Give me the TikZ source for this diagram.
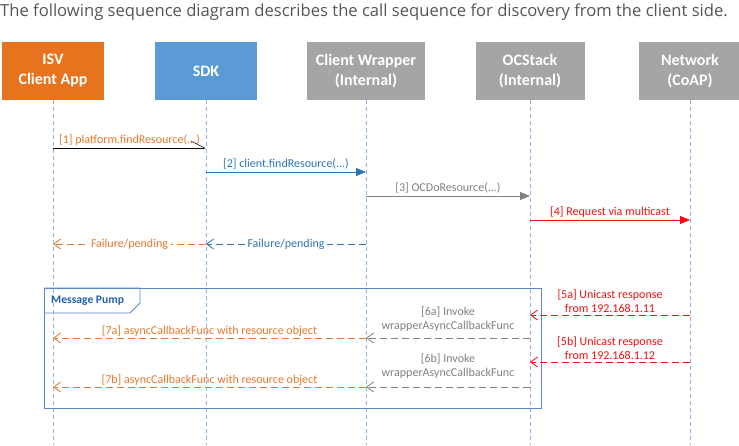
\documentclass[tikz,border=0pt]{standalone}
\usepackage{fontspec}
\setmainfont{Carlito}
\newfontfamily\titlefont{Open Sans}
\usetikzlibrary{arrows.meta}

\definecolor{isvorange}{HTML}{E8731E}
\definecolor{sdkblue}{HTML}{5B9BD5}
\definecolor{intgray}{HTML}{A5A5A5}
\definecolor{txtorange}{HTML}{E5782A}
\definecolor{txtblue}{HTML}{2E75B6}
\definecolor{txtgray}{HTML}{808080}
\definecolor{txtred}{HTML}{F01010}
\definecolor{lifeblue}{HTML}{8FB4DD}
\definecolor{pumpblue}{HTML}{5B86C8}
\definecolor{pumptext}{HTML}{1F5FAD}
\definecolor{titlegray}{HTML}{555555}

\tikzset{
  actor/.style={minimum height=58pt, text=white, inner sep=0pt, align=center,
    font=\fontsize{16}{20}\selectfont\bfseries},
  lifeline/.style={draw=lifeblue, dash pattern=on 4pt off 3pt, line width=0.6pt},
  msg/.style={font=\fontsize{12}{14.5}\selectfont, align=center, inner sep=0pt},
  call/.style={-{Triangle[length=10pt,width=8pt]}, line width=0.8pt},
  reply/.style={-{Straight Barb[length=7pt,width=10pt]}, dash pattern=on 7pt off 4pt, line width=0.8pt},
}

\begin{document}
\begin{tikzpicture}[x=1pt, y=-1pt]
  \useasboundingbox (0,0) rectangle (739,445);

  \node[anchor=west, inner sep=0pt, text=titlegray, font=\titlefont\fontsize{16.6}{19}\selectfont] (title) at (0,12)
    {The following sequence diagram describes the call sequence for discovery from the client side.};

  % participants
  \node[actor, fill=isvorange, minimum width=102pt] (isv) at (53,71) {ISV\\Client App};
  \node[actor, fill=sdkblue, minimum width=102pt] (sdk) at (206,71) {SDK};
  \node[actor, fill=intgray, minimum width=118pt] (wrap) at (366,71) {Client Wrapper\\(Internal)};
  \node[actor, fill=intgray, minimum width=109pt] (ocs) at (530,71) {OCStack\\(Internal)};
  \node[actor, fill=intgray, minimum width=102pt] (net) at (690,71) {Network\\(CoAP)};

  % lifelines
  \foreach \p in {isv,sdk,wrap,ocs,net} {
    \coordinate (\p-end) at (\p |- 0,445);
    \draw[lifeline] (\p.south) -- (\p-end);
  }

  % message pump frame
  \coordinate (pumpNW) at (44,288);
  \coordinate (pumpSE) at (541,408);
  \draw[pumpblue, line width=0.8pt] (pumpNW) rectangle (pumpSE);
  \draw[pumpblue, line width=0.8pt] (pumpNW) -- (140,288) -- (140,303) -- (130,313) -- (44,313);
  \node[anchor=west, inner sep=0pt, text=pumptext, font=\fontsize{11.6}{13}\selectfont\bfseries] (pump) at (51,301) {Message Pump};

  % rows
  \coordinate (r1) at (0,148);
  \coordinate (r2) at (0,172);
  \coordinate (r3) at (0,196);
  \coordinate (r4) at (0,220);
  \coordinate (r5) at (0,244);
  \coordinate (r6) at (0,315);
  \coordinate (r7) at (0,338);
  \coordinate (r8) at (0,362);
  \coordinate (r9) at (0,387);

  % calls
  \draw[black, line width=0.6pt, -{Straight Barb[left,length=14pt,width=14pt]}] (isv |- r1) -- (sdk |- r1)
    node[msg, midway, above=2.5pt, text=txtorange] (m1) {[1] platform.findResource(...)};
  \draw[call, txtblue] (sdk |- r2) -- (wrap |- r2)
    node[msg, midway, above=2.5pt] (m2) {[2] client.findResource(...)};
  \draw[call, txtgray] (wrap |- r3) -- (ocs |- r3)
    node[msg, midway, above=2.5pt] (m3) {[3] OCDoResource(...)};
  \draw[call, txtred] (ocs |- r4) -- (net |- r4)
    node[msg, midway, above=2.5pt] (m4) {[4] Request via multicast};

  % immediate returns
  \draw[reply, txtorange] (sdk |- r5) -- (isv |- r5)
    node[msg, midway, fill=white, inner xsep=3pt, inner ysep=1pt] (f1) {Failure/pending};
  \draw[reply, txtblue] (wrap |- r5) -- (sdk |- r5)
    node[msg, midway, fill=white, inner xsep=3pt, inner ysep=1pt] (f2) {Failure/pending};

  % responses
  \draw[reply, txtred] (net |- r6) -- (ocs |- r6)
    node[msg, midway, above=2pt] (m5a) {[5a] Unicast response\\from 192.168.1.11};
  \draw[reply, txtgray] (ocs |- r7) -- (wrap |- r7)
    node[msg, midway, above=6pt] (m6a) {[6a] Invoke\\wrapperAsyncCallbackFunc};
  \draw[reply, txtorange] (wrap |- r7) -- (isv |- r7)
    node[msg, midway, above=1pt] (m7a) {[7a] asyncCallbackFunc with resource object};
  \draw[reply, txtred] (net |- r8) -- (ocs |- r8)
    node[msg, midway, above=2pt] (m5b) {[5b] Unicast response\\from 192.168.1.12};
  \draw[reply, txtgray] (ocs |- r9) -- (wrap |- r9)
    node[msg, midway, above=8pt] (m6b) {[6b] Invoke\\wrapperAsyncCallbackFunc};
  \draw[reply, txtorange] (wrap |- r9) -- (isv |- r9)
    node[msg, midway, above=1pt] (m7b) {[7b] asyncCallbackFunc with resource object};
\end{tikzpicture}
\end{document}
